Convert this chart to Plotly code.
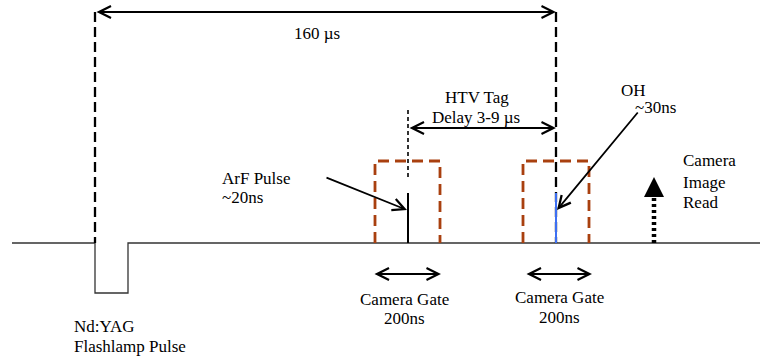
import plotly.graph_objects as go

# ---- schematic data (diagram units = pixels of the 760x356 canvas) ----
baseline_x = [12, 95, 95, 128, 128, 760]
baseline_y = [243, 243, 293, 293, 243, 243]

# event times on the schematic time axis
flash_x = 95          # Nd:YAG flashlamp trigger
q_switch_x = 556      # laser (OH) pulse
arf_x = 408           # ArF pulse
read_x = 654          # camera image read
gate_boxes = [(375, 440), (523, 589)]  # camera gates (left, right)
level_top = 12
level_base = 243
level_gate = 161
level_pulse = 193
level_htv = 110
level_htv_end = 180
level_read = 177

dim_160 = (flash_x, q_switch_x, 12)
dim_htv = (arf_x, q_switch_x, 128)
dim_gates = [(373, 441, 274), (525, 592, 274)]

labels = [
    ("160 µs", 317, 33, "center"),
    ("HTV Tag", 477, 97, "center"),
    ("Delay 3-9 µs", 476, 117, "center"),
    ("OH", 619, 90, "left"),
    ("~30ns", 633, 107, "left"),
    ("ArF Pulse", 220, 178, "left"),
    ("~20ns", 220, 197, "left"),
    ("Camera", 681, 160, "left"),
    ("Image", 681, 182, "left"),
    ("Read", 681, 202, "left"),
    ("Camera Gate", 404, 299, "center"),
    ("200ns", 404, 318, "center"),
    ("Camera Gate", 559, 297, "center"),
    ("200ns", 559, 317, "center"),
    ("Nd:YAG", 72, 326, "left"),
    ("Flashlamp Pulse", 72, 346, "left"),
]

pointer_arf = ((325, 177), (407, 210))
pointer_oh = ((639, 111), (557, 210))

ORANGE = "#A9400F"
BLUE = "#3D6FF2"
FONT = "Liberation Serif"

fig = go.Figure()

def line(xs, ys, color="black", width=2, dash="solid"):
    fig.add_trace(go.Scatter(x=xs, y=ys, mode="lines", hoverinfo="skip",
                             line=dict(color=color, width=width, dash=dash),
                             showlegend=False))

# baseline with flashlamp pulse
line(baseline_x, baseline_y, color="#333333", width=1.3)

# long dashed verticals
line([flash_x, flash_x], [level_top, level_base], width=2.3, dash="10px,5px")
line([q_switch_x, q_switch_x], [level_top, level_base], width=2.3, dash="10px,5px")

# HTV fine dashed line
line([arf_x, arf_x], [level_htv, level_htv_end], width=1.6, dash="4px,3px")

# camera gate boxes
for (l, r) in gate_boxes:
    line([l, l, r, r], [level_base, level_gate, level_gate, level_base],
         color=ORANGE, width=2.8, dash="11px,6px")

# ArF pulse (black) and OH pulse (blue)
line([arf_x, arf_x], [level_pulse, level_base], width=2)
line([q_switch_x, q_switch_x], [level_pulse, level_base], color=BLUE, width=2)

# camera image read dotted arrow
line([read_x, read_x], [level_base, level_read + 10], width=4.5, dash="3px,3px")

annotations = []

def arrow(x0, y0, x1, y1, both=False, width=1.8, size=1.3, head=5):
    annotations.append(dict(x=x1, y=y1, ax=x0, ay=y0, xref="x", yref="y",
                            axref="x", ayref="y", showarrow=True, text="",
                            arrowhead=head, arrowsize=size, arrowwidth=width,
                            arrowcolor="black",
                            arrowside="end+start" if both else "end",
                            startarrowhead=head, startarrowsize=size))

arrow(dim_160[0], dim_160[2], dim_160[1], dim_160[2], both=True)
arrow(dim_htv[0], dim_htv[2], dim_htv[1], dim_htv[2], both=True)
for (a, b, y) in dim_gates:
    arrow(a, y, b, y, both=True)
arrow(pointer_arf[0][0], pointer_arf[0][1], pointer_arf[1][0], pointer_arf[1][1])
arrow(pointer_oh[0][0], pointer_oh[0][1], pointer_oh[1][0], pointer_oh[1][1])
arrow(read_x, level_read + 12, read_x, level_read, width=2.5, size=1.6, head=2)

for (t, x, y, anchor) in labels:
    annotations.append(dict(x=x, y=y, xref="x", yref="y", text=t, showarrow=False,
                            xanchor=anchor, yanchor="middle",
                            font=dict(family=FONT, size=17, color="black")))

fig.update_layout(
    width=760, height=356,
    margin=dict(l=0, r=0, t=0, b=0),
    paper_bgcolor="white", plot_bgcolor="white",
    font=dict(family=FONT),
    xaxis=dict(range=[0, 760], visible=False, fixedrange=True),
    yaxis=dict(range=[356, 0], visible=False, fixedrange=True),
    annotations=annotations,
    showlegend=False,
)

fig.write_html("out.html")
